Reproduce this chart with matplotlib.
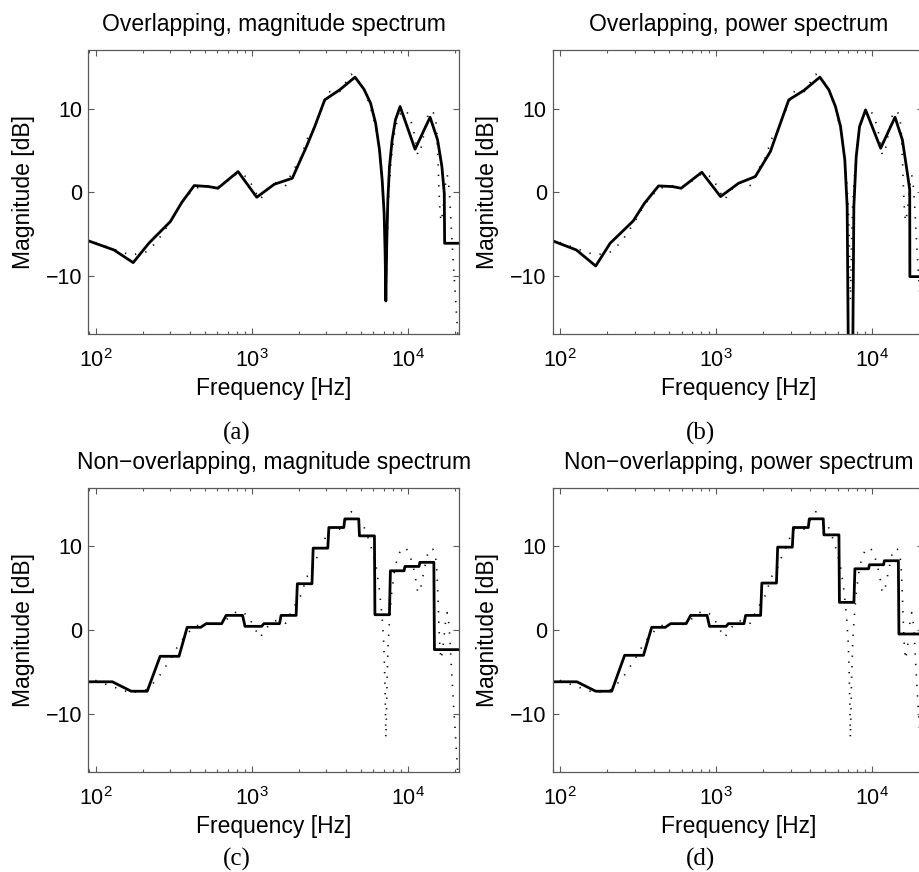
import numpy as np
import matplotlib
matplotlib.use('Agg')
import matplotlib.pyplot as plt
from matplotlib.ticker import LogLocator, NullFormatter, FixedLocator

plt.rcParams['font.family'] = ['Liberation Sans', 'DejaVu Sans']
plt.rcParams['mathtext.fontset'] = 'custom'
plt.rcParams['mathtext.rm'] = 'Liberation Sans'
plt.rcParams['mathtext.it'] = 'Liberation Sans:italic'
plt.rcParams['mathtext.bf'] = 'Liberation Sans:bold'

# espectro de referencia (linea punteada, igual en los 4 paneles)
ref_hz = [86, 131, 148, 167, 214, 233, 254, 273, 301, 332, 357, 385, 424, 480, 542, 613,
          692, 783, 843, 953, 1025, 1130, 1247, 1375, 1517, 1656, 1800, 1937, 2084, 2244,
          2476, 2665, 2867, 3086, 3404, 3661, 4038, 4346, 4677, 5160, 5556, 5918, 6277,
          6591, 6855, 7026, 7128, 7198, 7238, 7307, 7379, 7486, 7638, 7870, 8224, 8634,
          9202, 9755, 10250, 10770, 11200, 11590, 11990, 12470, 13100, 13620, 14450,
          15030, 15320, 15530, 15700, 15850, 16080, 16330, 16720, 17140, 17580, 17910,
          18270, 18620, 18990, 19360, 19760, 20150, 20570, 20960, 21500]
ref_db = [-5.6, -6.84, -7.16, -7.56, -7.12, -6.4, -5.6, -4.72, -3.52, -2.12, -1.2, -0.52,
          0.4, 0.68, 0.8, 0.68, 1.28, 2.08, 2.28, 1.68, 0.48, -0.92, 0.28, 1.08, 1.16,
          0.8, 2.28, 3.28, 4.28, 6.28, 7.48, 9.08, 10.28, 12.0, 12.2, 12.08, 13.28,
          14.16, 13.68, 12.68, 11.08, 9.48, 7.48, 4.68, 1.48, -1.72, -5.72, -9.72,
          -12.92, -9.72, -5.72, -1.72, 1.08, 4.28, 7.08, 8.88, 9.8, 9.8, 9.08, 7.8,
          6.28, 4.48, 4.68, 6.28, 8.28, 9.68, 9.68, 9.08, 7.48, 5.08, 2.68, 0.28,
          -2.12, -3.52, -2.52, -0.52, 1.48, 2.08, 1.08, -0.92, -4.12, -6.92, -9.72,
          -12.12, -14.92, -17.32, -20.0]

# (a) overlapping, magnitude
ovm_hz = [86, 131, 174, 219, 301, 357, 428, 529, 607, 818, 1077, 1396, 1820, 2244, 2535,
          2937, 3661, 4592, 5240, 5778, 6223, 6591, 6855, 7057, 7161, 7238, 7345, 7454,
          7638, 7943, 8337, 8931, 11140, 13900, 15530, 16550, 17140, 17230, 22050]
ovm_db = [-5.7, -6.92, -8.44, -6.12, -3.52, -1.2, 0.8, 0.68, 0.48, 2.48, -0.6, 0.96, 1.68,
          5.48, 7.88, 11.08, 12.28, 13.8, 12.36, 10.68, 8.28, 5.08, 1.48, -2.52, -7.32,
          -13.04, -5.72, -0.92, 3.08, 6.28, 8.68, 10.28, 5.16, 9.0, 6.28, 3.08, -0.12,
          -6.12, -6.12]

# (b) overlapping, power
ovp_hz = [86, 127, 169, 209, 294, 347, 427, 524, 596, 809, 1066, 1391, 1781, 2224, 2513,
          2917, 3640, 4616, 5272, 5810, 6262, 6672, 6905, 7010, 7260, 7516, 7623, 7893,
          8290, 9064, 11320, 13990, 15600, 16790, 17380, 17420, 22050]
ovp_db = [-5.7, -6.92, -8.84, -6.12, -3.44, -1.32, 0.76, 0.68, 0.48, 2.4, -0.52, 1.08,
          1.88, 4.88, 7.68, 11.08, 12.2, 13.8, 12.28, 10.28, 7.88, 3.88, -1.72, -16.92,
          -40.0, -16.92, -1.72, 4.28, 7.88, 9.88, 5.28, 9.0, 6.28, 2.28, 0.28, -10.12,
          -10.12]

# (c), (d) non-overlapping: bandas de tercio de octava
band_lo = [86, 169, 259, 386, 511, 686, 906, 1197, 1544, 1961, 2477, 3122, 3951, 4902,
           6160, 7742, 9600, 11960, 14820]
band_hi = [128, 214, 342, 471, 642, 874, 1158, 1507, 1926, 2433, 3074, 3891, 4852, 6117,
           7630, 9470, 11815, 14700, 22050]
nom_db = [-6.2, -7.33, -3.15, 0.32, 0.76, 1.75, 0.44, 0.76, 1.75, 5.54, 9.8, 12.27, 13.3,
          11.27, 1.83, 7.09, 7.61, 8.1, -2.35]
nop_db = [-6.2, -7.33, -3.03, 0.32, 0.76, 1.75, 0.44, 0.76, 1.75, 5.62, 9.92, 12.27,
          13.31, 11.39, 3.31, 7.33, 7.81, 8.29, -0.48]

titles = ['Overlapping, magnitude spectrum', 'Overlapping, power spectrum',
          'Non\u2212overlapping, magnitude spectrum', 'Non\u2212overlapping, power spectrum']
letras = ['(a)', '(b)', '(c)', '(d)']


def escalera(lo, hi, db):
    f = np.ravel(np.column_stack([lo, hi]))
    v = np.repeat(db, 2)
    return f, v


curvas = [(ovm_hz, ovm_db), (ovp_hz, ovp_db),
          escalera(band_lo, band_hi, nom_db), escalera(band_lo, band_hi, nop_db)]

W, H = 920, 872
fig = plt.figure(figsize=(W / 100, H / 100), dpi=100)

# posiciones en pixeles: (izq, der, arriba, abajo)
cajas = [(88.5, 459, 50.5, 334), (553, 923.5, 50.5, 334),
         (88.5, 459, 488, 772), (553, 923.5, 488, 772)]
pos_letra = [(237, 433), (701, 433), (237, 859), (701, 859)]

fs = 16.5
for i in range(4):
    l, r, t, b = cajas[i]
    ax = fig.add_axes([l / W, 1 - b / H, (r - l) / W, (b - t) / H])
    ax.plot(ref_hz, ref_db, color='0.05', lw=1.2, linestyle=(0, (0.8, 5.5)))
    ax.plot(curvas[i][0], curvas[i][1], color='black', lw=2.0)
    ax.set_xscale('log')
    ax.set_xlim(90, 21300)
    ax.set_ylim(-17, 17)
    ax.yaxis.set_major_locator(FixedLocator([-10, 0, 10]))
    ax.xaxis.set_major_locator(LogLocator(base=10))
    ax.xaxis.set_minor_locator(LogLocator(base=10, subs=np.arange(2, 10)))
    ax.xaxis.set_minor_formatter(NullFormatter())
    ax.tick_params(which='both', direction='in', top=True, right=True,
                   color='0.35', width=0.8, labelsize=15.5)
    ax.tick_params(which='major', length=4)
    ax.tick_params(which='minor', length=2.5)
    ax.tick_params(axis='x', pad=11)
    ax.tick_params(axis='y', pad=4.5)
    for s in ax.spines.values():
        s.set_color('0.35')
        s.set_linewidth(0.9)
    ax.set_xlabel('Frequency [Hz]', fontsize=fs)
    ax.set_ylabel('Magnitude [dB]', fontsize=fs)
    ax.xaxis.set_label_coords(0.5, -0.152)
    ax.yaxis.set_label_coords(-0.145, 0.5)
    ax.set_title(titles[i], fontsize=fs, pad=14)
    fig.text(pos_letra[i][0] / W, 1 - pos_letra[i][1] / H, letras[i],
             family=['Liberation Serif', 'DejaVu Serif'], fontsize=18,
             ha='center', va='center')

fig.savefig('out.png', dpi=100, facecolor='white')
